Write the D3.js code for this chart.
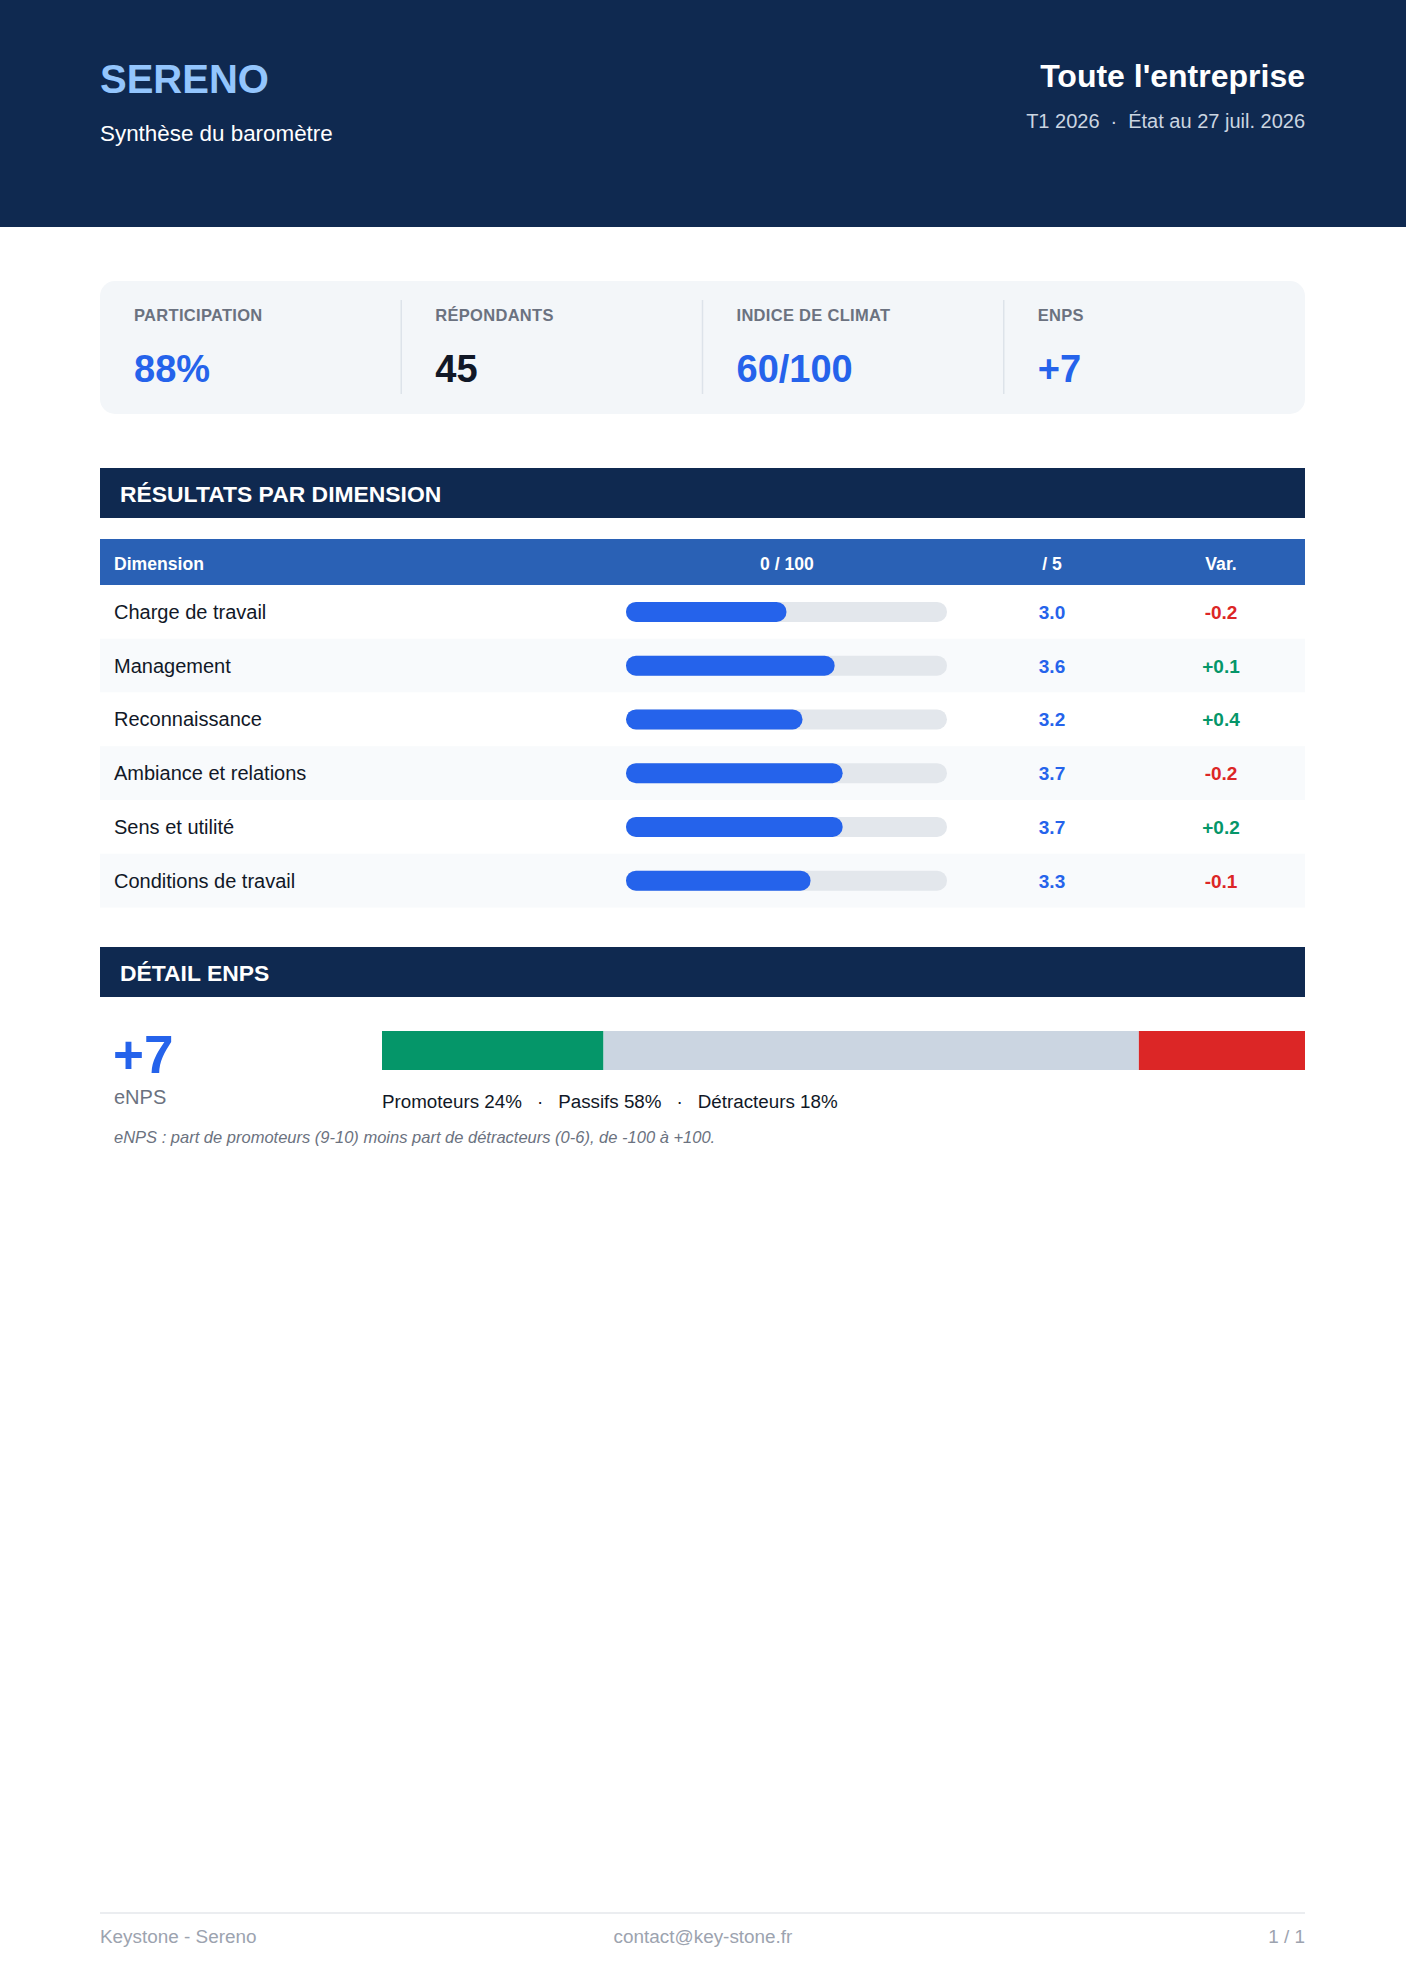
<!DOCTYPE html>
<html>
<head>
<meta charset="utf-8">
<script src="https://cdn.jsdelivr.net/npm/d3@7"></script>
<style>
  html, body { margin: 0; padding: 0; background: #fff; }
  svg { display: block; font-family: "Liberation Sans", Arial, sans-serif; }
</style>
</head>
<body>
<svg id="page"></svg>
<script>
const kpiLabels = ["PARTICIPATION", "RÉPONDANTS", "INDICE DE CLIMAT", "ENPS"];
const kpiValues = ["88%", "45", "60/100", "+7"];
const kpiAccent = [true, false, true, true];

const dimensions = ["Charge de travail", "Management", "Reconnaissance",
                    "Ambiance et relations", "Sens et utilité", "Conditions de travail"];
const score100 = [50, 65, 55, 67.5, 67.5, 57.5];
const score5 = [3.0, 3.6, 3.2, 3.7, 3.7, 3.3];
const variation = [-0.2, 0.1, 0.4, -0.2, 0.2, -0.1];

const enpsValue = 7;
const enpsParts = ["Promoteurs", "Passifs", "Détracteurs"];
const enpsShares = [24, 58, 18];

const W = 1406, H = 1988;
const navy = "#0f2950", blue = "#2563eb", green = "#059669", red = "#dc2626";
const left = 100, right = 1305;

const svg = d3.select("#page").attr("width", W).attr("height", H);
svg.append("rect").attr("width", W).attr("height", H).attr("fill", "#fff");

// header
svg.append("rect").attr("width", W).attr("height", 227).attr("fill", navy);
svg.append("text").attr("x", left).attr("y", 93).text("SERENO")
  .attr("font-size", 40).attr("font-weight", "bold").attr("fill", "#93c5fd");
svg.append("text").attr("x", left).attr("y", 141).text("Synthèse du baromètre")
  .attr("font-size", 22.4).attr("fill", "#fff");
svg.append("text").attr("x", right).attr("y", 87).attr("text-anchor", "end")
  .text("Toute l'entreprise").attr("font-size", 32).attr("font-weight", "bold").attr("fill", "#fff");
const sub = svg.append("text").attr("x", right).attr("y", 128).attr("text-anchor", "end")
  .attr("font-size", 20).attr("fill", "#cbd5e1");
sub.append("tspan").text("T1 2026");
sub.append("tspan").attr("dx", 11).text("·");
sub.append("tspan").attr("dx", 11).text("État au 27 juil. 2026");

// kpi card
svg.append("rect").attr("x", left).attr("y", 281).attr("width", right - left).attr("height", 133)
  .attr("rx", 15).attr("fill", "#f3f6f9");
const kx = d3.scaleBand().domain(kpiLabels).range([left, right]);
const kpi = svg.append("g").selectAll("g").data(kpiLabels).join("g")
  .attr("transform", d => `translate(${kx(d)},0)`);
kpi.filter((d, i) => i > 0).append("line")
  .attr("x1", 0).attr("x2", 0).attr("y1", 300).attr("y2", 394)
  .attr("stroke", "#dde3ea").attr("stroke-width", 1.5);
kpi.append("text").attr("x", 34).attr("y", 321).text(d => d)
  .attr("font-size", 16.5).attr("font-weight", "bold").attr("letter-spacing", 0.3).attr("fill", "#6b7280");
kpi.append("text").attr("x", 34).attr("y", 382).text((d, i) => kpiValues[i])
  .attr("font-size", 38).attr("font-weight", "bold")
  .attr("fill", (d, i) => kpiAccent[i] ? blue : "#111827");

function sectionBar(y, label) {
  svg.append("rect").attr("x", left).attr("y", y).attr("width", right - left).attr("height", 50).attr("fill", navy);
  svg.append("text").attr("x", 120).attr("y", y + 34).text(label)
    .attr("font-size", 22.9).attr("font-weight", "bold").attr("fill", "#fff");
}

// dimensions table
sectionBar(468, "RÉSULTATS PAR DIMENSION");
const colScore = 1052, colVar = 1221;
svg.append("rect").attr("x", left).attr("y", 539).attr("width", right - left).attr("height", 46).attr("fill", "#2a61b5");
const th = svg.append("g").attr("font-size", 17.6).attr("font-weight", "bold").attr("fill", "#fff");
th.append("text").attr("x", 114).attr("y", 570).text("Dimension");
th.append("text").attr("x", 787).attr("y", 570).attr("text-anchor", "middle").text("0 / 100");
th.append("text").attr("x", colScore).attr("y", 570).attr("text-anchor", "middle").text("/ 5");
th.append("text").attr("x", colVar).attr("y", 570).attr("text-anchor", "middle").text("Var.");

const y = d3.scaleBand().domain(dimensions).range([585, 907.5]);
const x = d3.scaleLinear().domain([0, 100]).range([626, 947]);
const barH = 20;

const rows = svg.append("g").selectAll("g").data(dimensions).join("g")
  .attr("transform", d => `translate(0,${y(d)})`);
rows.append("rect").attr("x", left).attr("width", right - left).attr("height", y.bandwidth())
  .attr("fill", (d, i) => i % 2 ? "#f8fafc" : "#fff");
const mid = y.bandwidth() / 2;
rows.append("text").attr("x", 114).attr("y", mid + 7).text(d => d)
  .attr("font-size", 20).attr("fill", "#111827");
rows.append("rect").attr("x", x(0)).attr("y", mid - barH / 2).attr("width", x(100) - x(0)).attr("height", barH)
  .attr("rx", barH / 2).attr("fill", "#e3e7ec");
rows.append("rect").attr("x", x(0)).attr("y", mid - barH / 2).attr("width", (d, i) => x(score100[i]) - x(0))
  .attr("height", barH).attr("rx", barH / 2).attr("fill", blue);
rows.append("text").attr("x", colScore).attr("y", mid + 7).attr("text-anchor", "middle")
  .text((d, i) => score5[i].toFixed(1)).attr("font-size", 19).attr("font-weight", "bold").attr("fill", blue);
rows.append("text").attr("x", colVar).attr("y", mid + 7).attr("text-anchor", "middle")
  .text((d, i) => (variation[i] > 0 ? "+" : "") + variation[i].toFixed(1))
  .attr("font-size", 19).attr("font-weight", "bold")
  .attr("fill", (d, i) => variation[i] >= 0 ? green : red);

// eNPS detail
sectionBar(947, "DÉTAIL ENPS");
svg.append("text").attr("x", 113).attr("y", 1073).text((enpsValue > 0 ? "+" : "") + enpsValue)
  .attr("font-size", 53).attr("font-weight", "bold").attr("fill", blue);
svg.append("text").attr("x", 114).attr("y", 1104).text("eNPS").attr("font-size", 20).attr("fill", "#6b7280");

const sx = d3.scaleLinear().domain([0, 100]).range([382, right]);
const starts = d3.cumsum([0, ...enpsShares]);
const segColors = [green, "#cbd5e1", red];
svg.append("g").selectAll("rect").data(enpsShares).join("rect")
  .attr("x", (d, i) => sx(starts[i])).attr("y", 1031)
  .attr("width", (d, i) => sx(starts[i] + d) - sx(starts[i])).attr("height", 39)
  .attr("fill", (d, i) => segColors[i]);

const legend = svg.append("text").attr("x", 382).attr("y", 1108).attr("font-size", 18.8).attr("fill", "#111827");
enpsParts.forEach((p, i) => {
  if (i > 0) legend.append("tspan").attr("dx", 15).text("·");
  legend.append("tspan").attr("dx", i > 0 ? 15 : 0).text(`${p} ${enpsShares[i]}%`);
});
svg.append("text").attr("x", 114).attr("y", 1143).attr("font-size", 16.5).attr("font-style", "italic")
  .attr("fill", "#6b7280")
  .text("eNPS : part de promoteurs (9-10) moins part de détracteurs (0-6), de -100 à +100.");

// footer
svg.append("line").attr("x1", left).attr("x2", right).attr("y1", 1913).attr("y2", 1913)
  .attr("stroke", "#e5e7eb").attr("stroke-width", 1.5);
const foot = svg.append("g").attr("font-size", 18.9).attr("fill", "#9ca3af");
foot.append("text").attr("x", left).attr("y", 1943).text("Keystone - Sereno");
foot.append("text").attr("x", 703).attr("y", 1943).attr("text-anchor", "middle").text("contact@key-stone.fr");
foot.append("text").attr("x", right).attr("y", 1943).attr("text-anchor", "end").text("1 / 1");
</script>
</body>
</html>
